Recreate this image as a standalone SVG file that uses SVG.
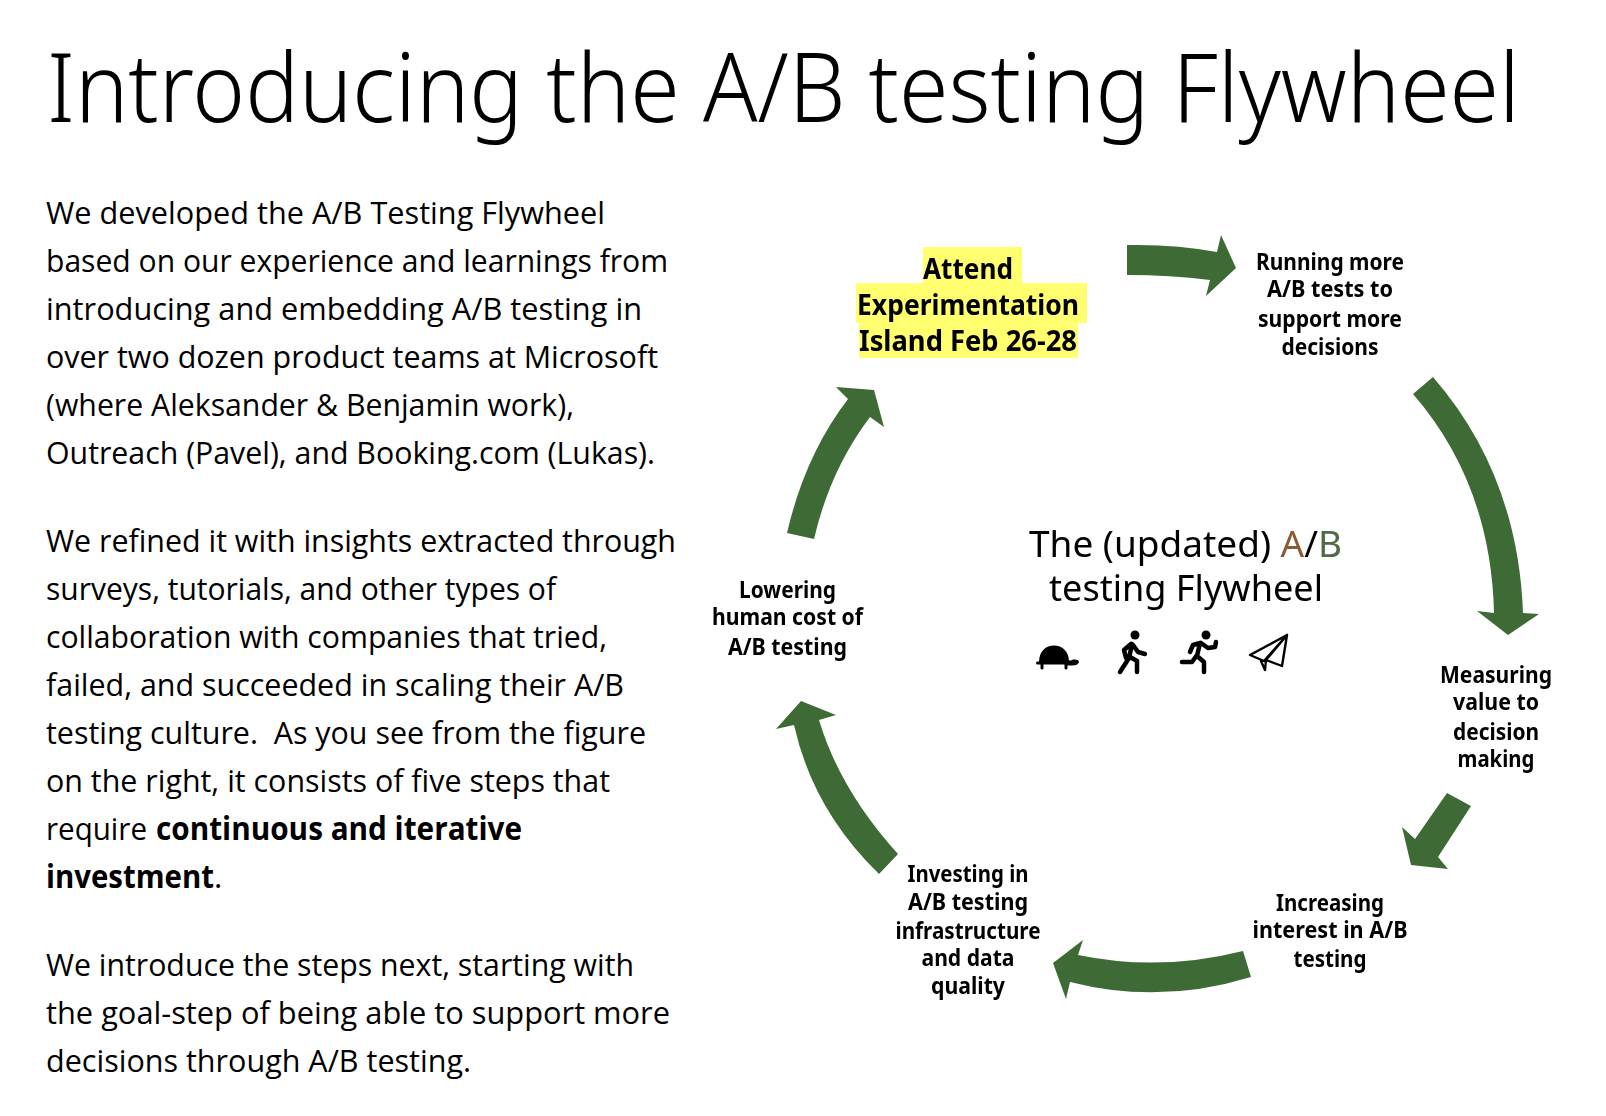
<svg xmlns="http://www.w3.org/2000/svg" width="1606" height="1116" viewBox="0 0 1606 1116">
<style>
text{font-family:"Open Sans","Noto Sans","DejaVu Sans",sans-serif;fill:#000}
.title{font-family:"Noto Sans","Open Sans",sans-serif;font-size:96px;font-weight:300}
.body{font-size:31.5px;font-weight:400}
.b{font-weight:700}
.lab{font-family:"Noto Sans","Open Sans",sans-serif;font-size:24px;font-weight:700;text-anchor:middle}
.att{font-size:28px}
.cap{font-family:"Noto Sans","Open Sans",sans-serif;font-size:37px;font-weight:400}
.arr{fill:#3e6a35;stroke:none}
.hl{fill:#ffff70}
.ln{fill:none;stroke:#000;stroke-linecap:round;stroke-linejoin:round}
</style>
<defs><filter id="soft" x="-5%" y="-5%" width="110%" height="110%"><feGaussianBlur stdDeviation="0.45"/></filter></defs>
<rect width="1606" height="1116" fill="#fff"/>
<g id="heading"><text class="title" x="47" y="122" textLength="1473" lengthAdjust="spacingAndGlyphs">Introducing the A/B testing Flywheel</text></g>
<g id="copy">
<text class="body" x="46" y="224" textLength="559" lengthAdjust="spacingAndGlyphs">We developed the A/B Testing Flywheel</text>
<text class="body" x="46" y="272" textLength="622" lengthAdjust="spacingAndGlyphs">based on our experience and learnings from</text>
<text class="body" x="46" y="320" textLength="596" lengthAdjust="spacingAndGlyphs">introducing and embedding A/B testing in</text>
<text class="body" x="46" y="368" textLength="612" lengthAdjust="spacingAndGlyphs">over two dozen product teams at Microsoft</text>
<text class="body" x="46" y="416" textLength="528" lengthAdjust="spacingAndGlyphs">(where Aleksander &amp; Benjamin work),</text>
<text class="body" x="46" y="464" textLength="609" lengthAdjust="spacingAndGlyphs">Outreach (Pavel), and Booking.com (Lukas).</text>
<text class="body" x="46" y="552" textLength="630" lengthAdjust="spacingAndGlyphs">We refined it with insights extracted through</text>
<text class="body" x="46" y="600" textLength="510" lengthAdjust="spacingAndGlyphs">surveys, tutorials, and other types of</text>
<text class="body" x="46" y="648" textLength="561" lengthAdjust="spacingAndGlyphs">collaboration with companies that tried,</text>
<text class="body" x="46" y="696" textLength="578" lengthAdjust="spacingAndGlyphs">failed, and succeeded in scaling their A/B</text>
<text class="body" x="46" y="744" textLength="600" lengthAdjust="spacingAndGlyphs" xml:space="preserve">testing culture.  As you see from the figure</text>
<text class="body" x="46" y="792" textLength="564" lengthAdjust="spacingAndGlyphs">on the right, it consists of five steps that</text>
<text class="body" x="46" y="840" textLength="101" lengthAdjust="spacingAndGlyphs">require</text>
<text class="body b" x="156" y="840" textLength="366" lengthAdjust="spacingAndGlyphs">continuous and iterative</text>
<text class="body b" x="46" y="888" textLength="168" lengthAdjust="spacingAndGlyphs">investment</text>
<text class="body" x="214" y="888">.</text>
<text class="body" x="46" y="976" textLength="588" lengthAdjust="spacingAndGlyphs">We introduce the steps next, starting with</text>
<text class="body" x="46" y="1024" textLength="624" lengthAdjust="spacingAndGlyphs">the goal-step of being able to support more</text>
<text class="body" x="46" y="1072" textLength="425" lengthAdjust="spacingAndGlyphs">decisions through A/B testing.</text>
</g>
<g id="connectors" filter="url(#soft)">
<path class="arr" d="M1127 245Q1175 244 1217 252L1221 235L1236 268L1206 296L1210 280Q1170 275 1127 275Z"/>
<path class="arr" d="M1413 394L1433 377Q1518 475 1523 613L1539 614L1508 635L1477 611L1494 613Q1491 484 1413 394Z"/>
<path class="arr" d="M1447 793L1471 806L1438 857L1448 869L1411 865L1402 827L1415 839Z"/>
<path class="arr" d="M1243 951L1251 977Q1160 1005 1070 982L1066 999L1053 963L1083 940L1078 955Q1160 972 1243 951Z"/>
<path class="arr" d="M879 874L898 854Q840 790 819 720L836 715L801 701L776 729L794 725Q813 810 879 874Z"/>
<path class="arr" d="M787 533L814 539Q830 470 870 417L884 427L874 390L836 387L848 399Q805 455 787 533Z"/>
</g>
<g filter="url(#soft)">
<g id="node-attend">
<rect class="hl" x="923" y="247" width="99" height="36"/>
<rect class="hl" x="856" y="283" width="231" height="40"/>
<rect class="hl" x="859" y="323" width="219" height="35"/>
<text class="lab att" x="968" y="279" textLength="90" lengthAdjust="spacingAndGlyphs">Attend</text>
<text class="lab att" x="968" y="315" textLength="222" lengthAdjust="spacingAndGlyphs">Experimentation</text>
<text class="lab att" x="968" y="351" textLength="218" lengthAdjust="spacingAndGlyphs">Island Feb 26-28</text>
</g>
<g id="node-running">
<text class="lab" x="1330" y="270" textLength="148" lengthAdjust="spacingAndGlyphs">Running more</text>
<text class="lab" x="1330" y="297" textLength="126" lengthAdjust="spacingAndGlyphs">A/B tests to</text>
<text class="lab" x="1330" y="327" textLength="144" lengthAdjust="spacingAndGlyphs">support more</text>
<text class="lab" x="1330" y="355" textLength="97" lengthAdjust="spacingAndGlyphs">decisions</text>
</g>
<g id="node-measuring">
<text class="lab" x="1496" y="683" textLength="112" lengthAdjust="spacingAndGlyphs">Measuring</text>
<text class="lab" x="1496" y="710" textLength="86" lengthAdjust="spacingAndGlyphs">value to</text>
<text class="lab" x="1496" y="740" textLength="86" lengthAdjust="spacingAndGlyphs">decision</text>
<text class="lab" x="1496" y="767" textLength="77" lengthAdjust="spacingAndGlyphs">making</text>
</g>
<g id="node-increasing">
<text class="lab" x="1330" y="911" textLength="108" lengthAdjust="spacingAndGlyphs">Increasing</text>
<text class="lab" x="1330" y="938" textLength="155" lengthAdjust="spacingAndGlyphs">interest in A/B</text>
<text class="lab" x="1330" y="967" textLength="73" lengthAdjust="spacingAndGlyphs">testing</text>
</g>
<g id="node-investing">
<text class="lab" x="968" y="882" textLength="121" lengthAdjust="spacingAndGlyphs">Investing in</text>
<text class="lab" x="968" y="910" textLength="120" lengthAdjust="spacingAndGlyphs">A/B testing</text>
<text class="lab" x="968" y="939" textLength="145" lengthAdjust="spacingAndGlyphs">infrastructure</text>
<text class="lab" x="968" y="966" textLength="93" lengthAdjust="spacingAndGlyphs">and data</text>
<text class="lab" x="968" y="994" textLength="74" lengthAdjust="spacingAndGlyphs">quality</text>
</g>
<g id="node-lowering">
<text class="lab" x="787.5" y="598" textLength="97" lengthAdjust="spacingAndGlyphs">Lowering</text>
<text class="lab" x="787.5" y="625" textLength="151" lengthAdjust="spacingAndGlyphs">human cost of</text>
<text class="lab" x="787.5" y="655" textLength="119" lengthAdjust="spacingAndGlyphs">A/B testing</text>
</g>
<g id="center-caption">
<text class="cap" x="1029" y="557" textLength="313" lengthAdjust="spacingAndGlyphs">The (updated) <tspan style="fill:#8a5a35">A</tspan>/<tspan style="fill:#4f6b45">B</tspan></text>
<text class="cap" x="1049" y="601" textLength="274" lengthAdjust="spacingAndGlyphs">testing Flywheel</text>
</g>
<g id="icons">
<g id="icon-turtle">
<path d="M1039 662C1039 651 1046 645.500 1054 645.500C1062 645.500 1069 651 1069 662Z" fill="#000"/>
<path class="ln" stroke-width="3" d="M1037.500 663H1072"/>
<path d="M1067 660Q1071 661 1073 659.500Q1079 659 1079 662Q1078 665.500 1072 665.500H1066Z" fill="#000"/>
<path class="ln" stroke-width="3" d="M1042 664V668M1066 664V668"/>
</g>
<g id="icon-walker">
<circle cx="1135" cy="635" r="4.500" fill="#000"/>
<path class="ln" stroke-width="4.500" d="M1132 644L1129 658L1120 672M1130 657L1137 661V672M1131 644L1124 650L1126 658M1133 645L1138 652L1145 654"/>
</g>
<g id="icon-runner">
<circle cx="1206" cy="635" r="4.500" fill="#000"/>
<path class="ln" stroke-width="4.500" d="M1200 643L1197 656L1204 662V672M1197 655L1192 662H1182M1200 643L1193 645L1190 652M1201 643L1208 648L1215 647L1216 642"/>
</g>
<g id="icon-plane">
<path class="ln" stroke-width="2.400" d="M1287 635L1250 655L1264 661L1287 635L1282 666L1266 660L1265 670L1261 661M1287 635L1266 660"/>
</g>
</g>
</g>
</svg>
